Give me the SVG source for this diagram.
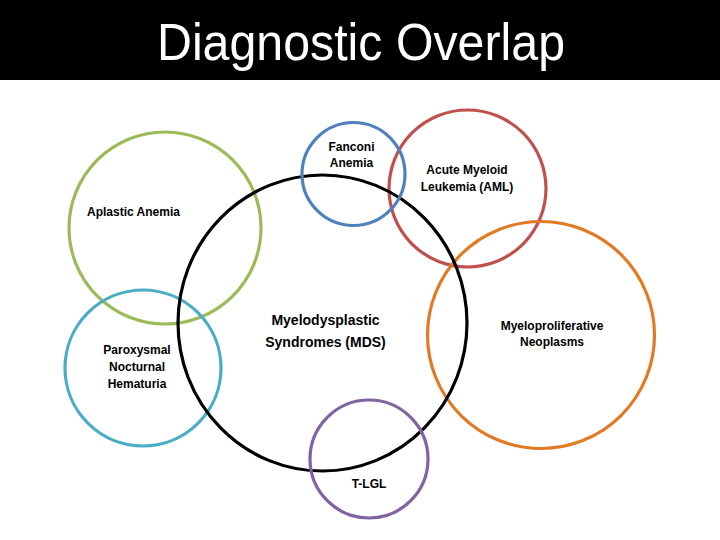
<svg xmlns="http://www.w3.org/2000/svg" width="720" height="540" viewBox="0 0 720 540">
<style>
.c{fill:none;stroke-width:3.2}
.t{font-family:"Liberation Sans",Arial,sans-serif;font-weight:bold;font-size:12px;fill:#000;text-anchor:middle}
.big{font-size:14px}
</style>
<rect x="0" y="0" width="720" height="540" fill="#fff"/>
<g id="title">
<rect x="0" y="0" width="720" height="80" fill="#000"/>
<text x="361" y="60" font-family="Liberation Sans,Arial,sans-serif" font-size="52" fill="#fff" text-anchor="middle" textLength="408" lengthAdjust="spacingAndGlyphs">Diagnostic Overlap</text>
</g>
<g id="aplastic">
<circle class="c" cx="165" cy="228" r="96" stroke="#9BBB59"/>
<text class="t" x="133.5" y="216">Aplastic Anemia</text>
</g>
<g id="pnh">
<circle class="c" cx="143" cy="368" r="78" stroke="#4BACC6"/>
<text class="t" x="137" y="354">Paroxysmal</text>
<text class="t" x="137" y="371">Nocturnal</text>
<text class="t" x="137" y="387.5">Hematuria</text>
</g>
<g id="aml">
<circle class="c" cx="467.5" cy="188.5" r="78.5" stroke="#C0504D"/>
<text class="t" x="467" y="174">Acute Myeloid</text>
<text class="t" x="467" y="190.5">Leukemia (AML)</text>
</g>
<g id="mpn">
<circle class="c" cx="541" cy="335" r="113.5" stroke="#E07B24"/>
<text class="t" x="552" y="329.5">Myeloproliferative</text>
<text class="t" x="552" y="346">Neoplasms</text>
</g>
<g id="mds">
<ellipse class="c" cx="322.5" cy="323" rx="144.5" ry="148" stroke="#000" stroke-width="3.6"/>
<text class="t big" x="325.5" y="325">Myelodysplastic</text>
<text class="t big" x="325.5" y="347">Syndromes (MDS)</text>
</g>
<g id="fanconi">
<circle class="c" cx="353.5" cy="174" r="51.5" stroke="#4F81BD"/>
<text class="t" x="351.5" y="150.5">Fanconi</text>
<text class="t" x="351.5" y="167">Anemia</text>
</g>
<g id="tlgl">
<circle class="c" cx="369" cy="459" r="59" stroke="#8064A2"/>
<text class="t" x="369" y="487.5">T-LGL</text>
</g>
<g id="connectors"></g>
</svg>
